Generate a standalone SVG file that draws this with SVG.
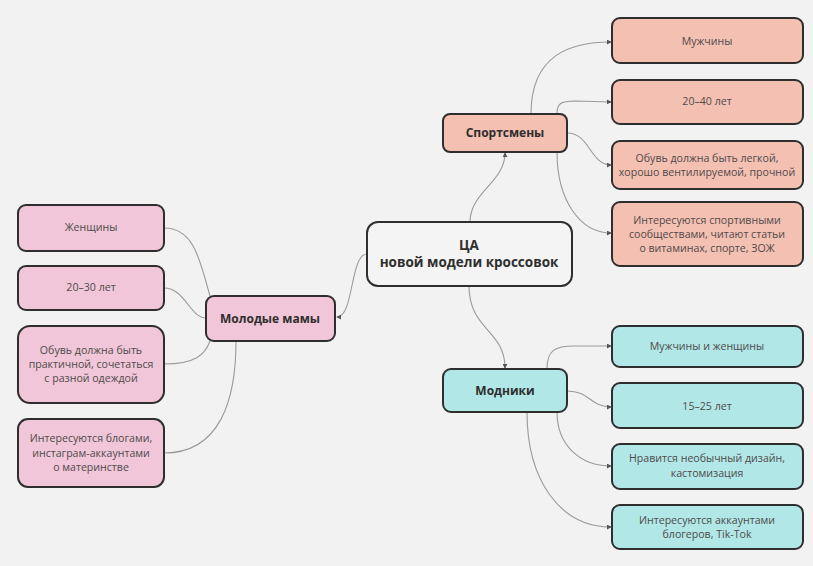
<svg xmlns="http://www.w3.org/2000/svg" width="813" height="566" viewBox="0 0 813 566">
<style>
text{font-family:"Open Sans","Noto Sans","Liberation Sans",sans-serif;text-anchor:middle;dominant-baseline:central}
.box{stroke:#2e2e2e;stroke-width:2}
.c{fill:#4f4a4a;font-size:10.6px}
.p{fill:#2e2e2e;font-size:12px;font-weight:700}
.q{fill:#2e2e2e;font-size:13.5px;font-weight:700}
.s{fill:#f4c0b2}
.m{fill:#f1c6d8}
.t{fill:#b1e7e7}
.conn path{fill:none;stroke:#9a9a9a;stroke-width:1.1}
</style>
<defs>
<marker id="ar" viewBox="0 0 6 6" refX="5" refY="3" markerWidth="5" markerHeight="5" orient="auto" markerUnits="userSpaceOnUse">
<path d="M0,0 L6,3 L0,6 Z" fill="#555"/>
</marker>
</defs>
<rect width="813" height="566" fill="#f2f2f2"/>
<g class="conn">
<path d="M470,222 C470,192 505,182 505,153" marker-end="url(#ar)"/>
<path d="M469,286 C469,330 505,330 505,368" marker-end="url(#ar)"/>
<path d="M367,254 C350,254 354,317 337,317" marker-end="url(#ar)"/>
<path d="M531,114 C531,55 570,42 611,42" marker-end="url(#ar)"/>
<path d="M557,114 C557,104 560,101 575,101 L611,102" marker-end="url(#ar)"/>
<path d="M567,133 C590,133 590,165 611,165" marker-end="url(#ar)"/>
<path d="M557,152 C557,200 580,233 611,233" marker-end="url(#ar)"/>
<path d="M547,369 C547,350 555,346 575,346 L611,346" marker-end="url(#ar)"/>
<path d="M567,391 C590,391 590,407 611,407" marker-end="url(#ar)"/>
<path d="M557,412 C557,445 580,466 611,466" marker-end="url(#ar)"/>
<path d="M527,412 C527,480 560,527 611,527" marker-end="url(#ar)"/>
<path d="M164,228 C195,228 200,262 210,296"/>
<path d="M164,288 C185,288 190,318 206,318"/>
<path d="M164,364 C195,364 205,355 210,341"/>
<path d="M164,453 C220,453 236,400 236,341"/>
</g>
<g id="center">
<rect class="box" x="367" y="222" width="205" height="64" rx="11" fill="#f4f4f4"/>
<text class="q" x="469" y="245">ЦА</text>
<text class="q" x="469" y="262">новой модели кроссовок</text>
</g>
<g id="sport">
<rect class="box s" x="443" y="114" width="124" height="38" rx="7"/>
<text class="p" x="505" y="132">Спортсмены</text>
</g>
<g id="sport1">
<rect class="box s" x="612" y="18" width="191" height="45" rx="8"/>
<text class="c" x="707" y="41">Мужчины</text>
</g>
<g id="sport2">
<rect class="box s" x="612" y="80" width="191" height="44" rx="8"/>
<text class="c" x="707" y="101">20–40 лет</text>
</g>
<g id="sport3">
<rect class="box s" x="612" y="141" width="191" height="48" rx="8"/>
<text class="c" x="707" y="158">Обувь должна быть легкой,</text>
<text class="c" x="707" y="172">хорошо вентилируемой, прочной</text>
</g>
<g id="sport4">
<rect class="box s" x="612" y="202" width="191" height="64" rx="8"/>
<text class="c" x="707" y="220">Интересуются спортивными</text>
<text class="c" x="707" y="234">сообществами, читают статьи</text>
<text class="c" x="707" y="248">о витаминах, спорте, ЗОЖ</text>
</g>
<g id="mamy">
<rect class="box m" x="206" y="296" width="129" height="45" rx="8"/>
<text class="p" x="270" y="318">Молодые мамы</text>
</g>
<g id="mamy1">
<rect class="box m" x="18" y="205" width="146" height="46" rx="8"/>
<text class="c" x="91" y="227">Женщины</text>
</g>
<g id="mamy2">
<rect class="box m" x="18" y="266" width="146" height="44" rx="8"/>
<text class="c" x="91" y="287">20–30 лет</text>
</g>
<g id="mamy3">
<rect class="box m" x="18" y="326" width="146" height="77" rx="12"/>
<text class="c" x="91" y="350">Обувь должна быть</text>
<text class="c" x="91" y="364">практичной, сочетаться</text>
<text class="c" x="91" y="378">с разной одеждой</text>
</g>
<g id="mamy4">
<rect class="box m" x="18" y="419" width="146" height="68" rx="10"/>
<text class="c" x="91" y="438">Интересуются блогами,</text>
<text class="c" x="91" y="453">инстаграм-аккаунтами</text>
<text class="c" x="91" y="467">о материнстве</text>
</g>
<g id="modniki">
<rect class="box t" x="443" y="369" width="124" height="43" rx="8"/>
<text class="p" x="505" y="390">Модники</text>
</g>
<g id="mod1">
<rect class="box t" x="612" y="326" width="191" height="41" rx="8"/>
<text class="c" x="707" y="346">Мужчины и женщины</text>
</g>
<g id="mod2">
<rect class="box t" x="612" y="383" width="191" height="45" rx="8"/>
<text class="c" x="707" y="406">15–25 лет</text>
</g>
<g id="mod3">
<rect class="box t" x="612" y="444" width="191" height="45" rx="8"/>
<text class="c" x="707" y="458">Нравится необычный дизайн,</text>
<text class="c" x="707" y="473">кастомизация</text>
</g>
<g id="mod4">
<rect class="box t" x="612" y="505" width="191" height="44" rx="8"/>
<text class="c" x="707" y="520">Интересуются аккаунтами</text>
<text class="c" x="707" y="534">блогеров, Tik-Tok</text>
</g>
</svg>
